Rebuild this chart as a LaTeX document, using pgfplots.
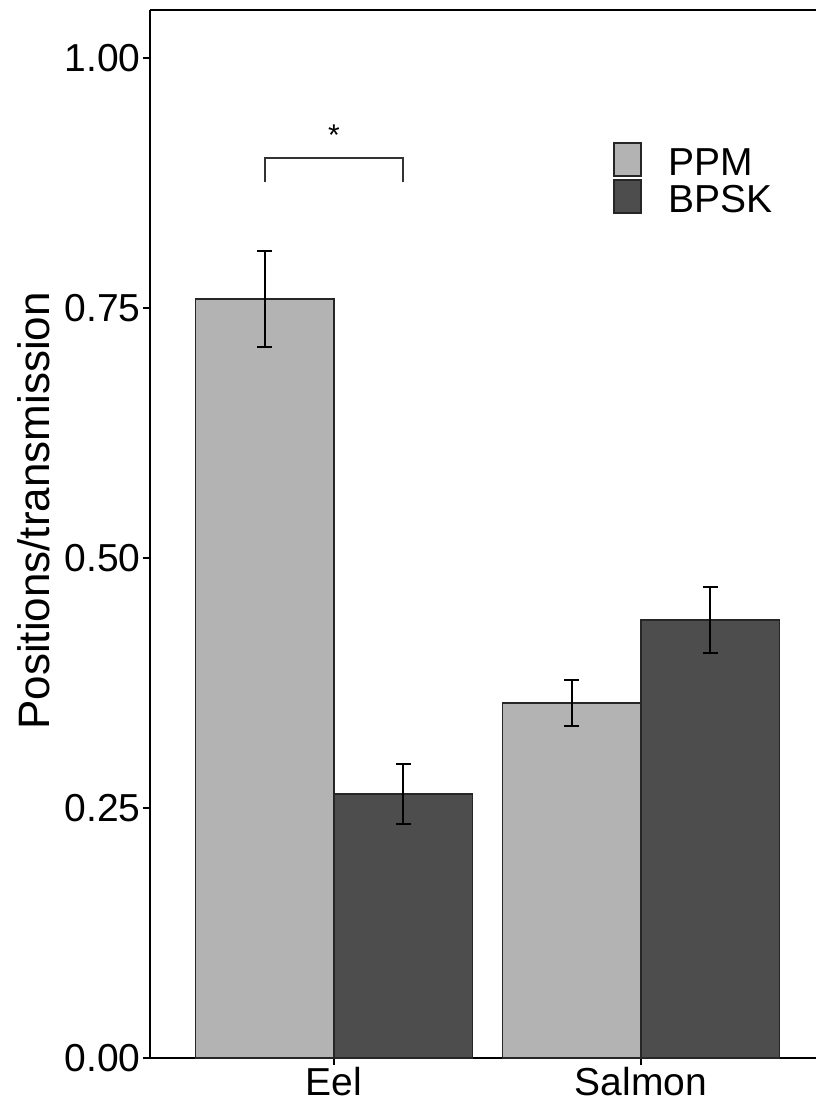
\documentclass[border=0pt]{standalone}
\usepackage{pgfplots}
\pgfplotsset{compat=1.18}
\usepackage{fontspec}
\setmainfont{Liberation Sans}
\definecolor{ppm}{HTML}{B3B3B3}
\definecolor{bpsk}{HTML}{4D4D4D}
\begin{document}
\begin{tikzpicture}
\begin{axis}[
 scale only axis, width=333pt, height=524pt,
 xmin=0.4007, xmax=2.57, ymin=0, ymax=1.048,
 axis x line*=bottom, axis y line*=left,
 axis line style={line width=0.8pt, -},
 x axis line style={-}, y axis line style={-},
 xtick={1,2}, xticklabels={Eel,Salmon},
 ytick={0,0.25,0.5,0.75,1},
 yticklabel style={/pgf/number format/fixed, /pgf/number format/zerofill, /pgf/number format/precision=2},
 /pgf/number format/assume math mode=true,
 tick align=outside, major tick length=3.5pt, tick style={line width=0.6pt, black},
 ticklabel style={font=\fontsize{19.5}{22}\selectfont, inner sep=1pt},
 ylabel={Positions/transmission},
 every axis y label/.style={at={(axis description cs:-0.174,0.522)}, rotate=90, anchor=center, font=\fontsize{22}{26}\selectfont},
 legend style={at={(axis cs:1.909,0.916)}, anchor=north west, draw=none, fill=none, inner sep=0pt, row sep=-2.5pt, column sep=13.5pt, font=\fontsize{19.5}{22}\selectfont, nodes={inner sep=0pt, text height=12pt, text depth=4.5pt}},
 legend cell align=left,
 every axis plot post/.append style={legend image code/.code={\draw[#1] (0pt,-4pt) rectangle (13.5pt,12.5pt);}},
 clip=false,
]
\addplot[ybar, bar width=0.45, bar shift=0pt, fill=ppm, draw=black!85, line width=0.6pt,
  error bars/.cd, y dir=both, y explicit,
  error bar style={line width=0.7pt, black},
  error mark options={rotate=90, line width=0.7pt, mark size=3.75pt, black}]
  coordinates {(0.775,0.759) +- (0,0.048) (1.775,0.355) +- (0,0.023)};
\addplot[ybar, bar width=0.45, bar shift=0pt, fill=bpsk, draw=black!85, line width=0.6pt,
  error bars/.cd, y dir=both, y explicit,
  error bar style={line width=0.7pt, black},
  error mark options={rotate=90, line width=0.7pt, mark size=3.75pt, black}]
  coordinates {(1.225,0.264) +- (0,0.030) (2.225,0.438) +- (0,0.033)};
\legend{PPM,BPSK}
\draw[line width=0.7pt, color=black!80] (axis cs:0.775,0.876) -- (axis cs:0.775,0.900) -- (axis cs:1.225,0.900) -- (axis cs:1.225,0.876);
\node[font=\fontsize{15}{17}\selectfont, inner sep=0pt] at (axis cs:1,0.923) {*};
\draw[line width=0.8pt] (rel axis cs:0,1) -- (rel axis cs:1,1);
\coordinate (BL) at (rel axis cs:0,0);
\coordinate (TR) at (rel axis cs:1,1);
\end{axis}
\pgfresetboundingbox
\path[use as bounding box] ([xshift=-75pt,yshift=-24pt]BL) rectangle ([yshift=5pt]TR);
\end{tikzpicture}
\end{document}
